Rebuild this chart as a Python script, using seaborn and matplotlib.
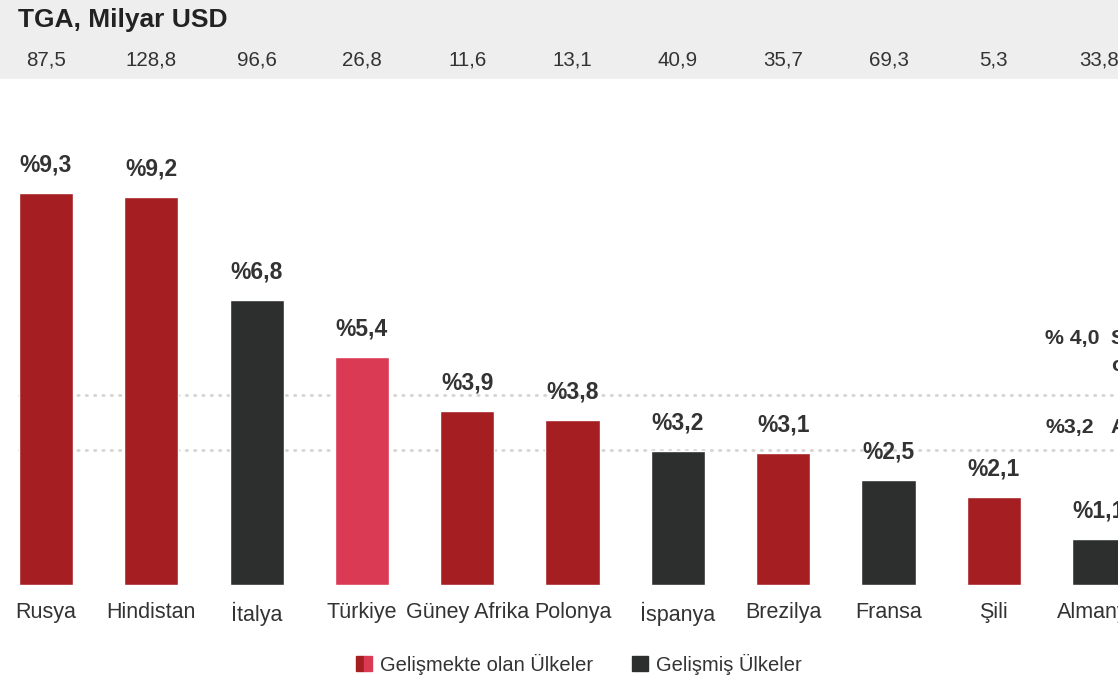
import matplotlib
matplotlib.use("Agg")
import matplotlib.pyplot as plt
import matplotlib.patches as mpatches
from matplotlib.legend_handler import HandlerTuple
from matplotlib.transforms import blended_transform_factory
import seaborn as sns
import pandas as pd

# ---- data ----
countries = ["Rusya", "Hindistan", "İtalya", "Türkiye", "Güney Afrika", "Polonya",
             "İspanya", "Brezilya", "Fransa", "Şili", "Almanya"]
# bar heights as drawn in the picture
growth = [9.3, 9.2, 6.75, 5.4, 4.12, 3.91, 3.18, 3.13, 2.49, 2.09, 1.09]
growth_labels = ["%9,3", "%9,2", "%6,8", "%5,4", "%3,9", "%3,8", "%3,2", "%3,1", "%2,5", "%2,1", "%1,1"]
group = ["dev", "dev", "adv", "tr", "dev", "dev", "adv", "dev", "adv", "dev", "adv"]
tga = ["87,5", "128,8", "96,6", "26,8", "11,6", "13,1", "40,9", "35,7", "69,3", "5,3", "33,8"]
ref_levels = [4.5, 3.2]
ref_numbers = ["% 4,0", "%3,2"]
ref_texts = ["Seçilmiş ülkeler\nortalaması", "AB ortalaması"]
title = "TGA, Milyar USD"
legend_labels = ["Gelişmekte olan Ülkeler", "Gelişmiş Ülkeler"]

colors = {"dev": "#A51F22", "adv": "#2D2F2F", "tr": "#DB3A55"}
TXT = "#333333"

sns.set_theme(style="white")
plt.rcParams["font.family"] = ["Liberation Sans", "DejaVu Sans"]

W, H = 1118, 680
fig = plt.figure(figsize=(W / 100, H / 100), dpi=100)
fig.patch.set_facecolor("white")

# header band
fig.patches.append(mpatches.Rectangle((0, 1 - 79 / H), 1, 79 / H, transform=fig.transFigure,
                                      facecolor="#EEEEEE", edgecolor="none", zorder=0))
fig.text(18 / W, 1 - 20 / H, title, fontsize=19, fontweight="bold", color="#222222",
         ha="left", va="center")

ax = fig.add_axes([0, 1 - 585 / H, 1, 506 / H])
ax.set_facecolor("none")

df = pd.DataFrame({"country": countries, "growth": growth, "group": group})
palette = {c: colors[g] for c, g in zip(countries, group)}
sns.barplot(data=df, x="country", y="growth", hue="country", palette=palette,
            legend=False, width=0.515, saturation=1, ax=ax, zorder=3)

ax.set_xlim(-0.437, 10.18)
ax.set_ylim(0, 12)

for lvl in ref_levels:
    ax.plot([-0.26, 10.18], [lvl, lvl], color="#D4D4D4", lw=2,
            linestyle=(0, (0.5, 2.5)), dash_capstyle="round", zorder=1)

for i, (v, lab) in enumerate(zip(growth, growth_labels)):
    ax.annotate(lab, (i, v), xytext=(0, 12), textcoords="offset points",
                ha="center", va="bottom", fontsize=16.5, fontweight="bold", color=TXT)

# header values
tr = blended_transform_factory(ax.transData, fig.transFigure)
for i, v in enumerate(tga):
    fig.text(i, 1 - 60 / H, v, transform=tr, fontsize=14.8, color=TXT,
             ha="center", va="center")

# reference annotations
tr2 = blended_transform_factory(fig.transFigure, ax.transData)
for lvl, num, txt in zip(ref_levels, ref_numbers, ref_texts):
    lines = txt.split("\n")
    if len(lines) > 1:
        y0 = lvl + 57 / 42.2
    else:
        y0 = lvl + 23 / 42.2
    ax.text(1045 / W, y0, num, transform=tr2, fontsize=15.3, fontweight="bold",
            color=TXT, ha="left", va="center", clip_on=False)
    for k, ln in enumerate(lines):
        ax.text(1111 / W, y0 - k * 27 / 42.2, ln, transform=tr2, fontsize=15.3,
                fontweight="bold", color=TXT, ha="left", va="center", clip_on=False)

ax.set_xlabel("")
ax.set_ylabel("")
ax.set_yticks([])
ax.tick_params(axis="x", length=0, pad=12, labelsize=15.5, labelcolor=TXT)
sns.despine(ax=ax, left=True, bottom=True)

# legend
h_dev = (mpatches.Patch(color=colors["dev"]), mpatches.Patch(color=colors["tr"]))
h_adv = mpatches.Patch(color=colors["adv"])
fig.legend([h_dev, h_adv], legend_labels, handler_map={tuple: HandlerTuple(ndivide=None, pad=0)},
           loc="center", bbox_to_anchor=(579 / W, 1 - 664 / H), ncol=2, frameon=False,
           fontsize=14.5, handlelength=0.8, handleheight=0.8, handletextpad=0.4,
           columnspacing=1.9, labelcolor=TXT)

fig.savefig("out.png", dpi=100, facecolor="white")
